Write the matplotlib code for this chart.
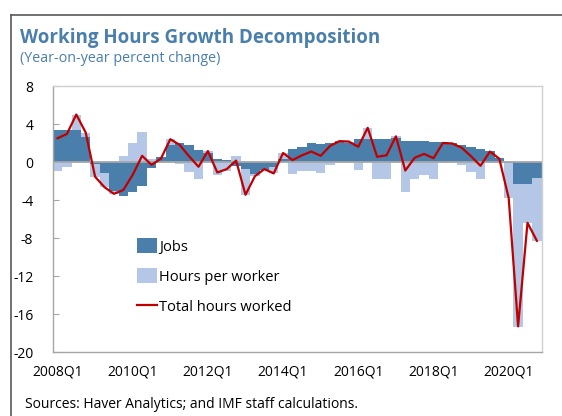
import matplotlib
matplotlib.use("Agg")
import matplotlib.pyplot as plt
from matplotlib.lines import Line2D
from matplotlib.patches import Patch
import numpy as np

plt.rcParams['font.family'] = ['Open Sans', 'DejaVu Sans']

quarters = [f"{y}Q{q}" for y in range(2008, 2021) for q in range(1, 5)]

jobs = [3.4, 3.4, 3.4, 2.6,
        -0.2, -1.2, -3.0, -3.6,
        -3.2, -2.5, -0.65, 0.5,
        1.8, 2.0, 1.75, 1.3,
        1.0, 0.3, 0.2, -0.4,
        -0.7, -1.3, -0.8, -0.5,
        0.3, 1.4, 1.55, 2.05,
        1.9, 2.0, 2.25, 2.0,
        2.4, 2.4, 2.4, 2.45,
        2.5, 2.25, 2.25, 2.2,
        2.15, 2.1, 2.0, 1.8,
        1.6, 1.4, 1.2, 0.45,
        -0.1, -2.35, -2.35, -1.7]

hours = [-0.9, -0.5, 1.6, 0.5,
         -1.35, -1.45, -0.35, 0.6,
         2.0, 3.2, 0.35, -0.1,
         0.6, -0.2, -1.1, -1.8,
         0.2, -1.4, -0.95, 0.6,
         -2.75, -0.2, 0.05, -0.7,
         0.7, -1.25, -0.9, -0.9,
         -1.2, -0.3, 0.0, 0.15,
         -0.85, 1.2, -1.8, -1.75,
         0.25, -3.2, -1.8, -1.35,
         -1.8, -0.1, -0.05, -0.3,
         -1.0, -1.8, -0.1, -0.1,
         -3.7, -15.0, -4.05, -6.6]

total = [2.5, 2.95, 5.0, 3.1,
         -1.55, -2.65, -3.35, -2.95,
         -1.35, 0.65, -0.3, 0.35,
         2.4, 1.8, 0.6, -0.5,
         1.15, -1.1, -0.75, 0.15,
         -3.45, -1.5, -0.75, -1.2,
         0.95, 0.2, 0.7, 1.1,
         0.65, 1.7, 2.2, 2.15,
         1.6, 3.6, 0.55, 0.7,
         2.7, -0.9, 0.45, 0.85,
         0.4, 2.0, 1.95, 1.5,
         0.6, -0.4, 1.1, 0.35,
         -3.8, -17.3, -6.4, -8.3]

yticks = [8, 4, 0, -4, -8, -12, -16, -20]
xlabel_every = 8

DARK = "#4a7eab"
LIGHT = "#b4c7e7"
RED = "#c00000"
TITLE_C = "#4a7eab"

fig = plt.figure(figsize=(5.62, 4.16), dpi=100)
ax = fig.add_axes([52.8 / 562, 1 - 352 / 416, (541.6 - 52.8) / 562, (352 - 86) / 416])

x = np.arange(len(quarters))
j = np.array(jobs)
h = np.array(hours)
hb = np.where(np.sign(h) == np.sign(j), j, 0.0)

ax.bar(x, j, width=1.0, color=DARK, linewidth=0, zorder=2)
ax.bar(x, h, bottom=hb, width=1.0, color=LIGHT, linewidth=0, zorder=2)
ax.axhline(0, color="#a6a6a6", lw=1.3, zorder=3)
ax.plot(x, total, color=RED, lw=1.6, zorder=4)

ax.set_xlim(-0.5, len(quarters) - 0.5)
ax.set_ylim(-20, 8)
ax.set_yticks(yticks)
ax.set_yticklabels([str(v) for v in yticks])
ax.set_xticks(x[::xlabel_every])
ax.set_xticklabels(quarters[::xlabel_every])

ax.tick_params(axis='y', direction='in', length=4, color="#a6a6a6", labelsize=10, pad=14)
ax.tick_params(axis='x', length=0, labelsize=10, pad=9)
for lab in ax.get_yticklabels():
    lab.set_horizontalalignment('right')

for s in ['left', 'bottom']:
    ax.spines[s].set_color("#a6a6a6")
    ax.spines[s].set_linewidth(1.0)
for s in ['top', 'right']:
    ax.spines[s].set_color("#d0d0d0")
    ax.spines[s].set_linewidth(1.0)

handles = [Patch(facecolor=DARK, edgecolor='none', label='Jobs'),
           Patch(facecolor=LIGHT, edgecolor='none', label='Hours per worker'),
           Line2D([0], [0], color=RED, lw=1.6, label='Total hours worked')]
ax.legend(handles=handles, loc='upper left', bbox_to_anchor=(0.16, 0.45), frameon=False,
          fontsize=10.5, handlelength=1.4, handleheight=1.2, handletextpad=0.15,
          labelspacing=0.95, borderaxespad=0)

fig.text(20 / 562, 1 - 38 / 416, "Working Hours Growth Decomposition", color=TITLE_C,
         fontsize=13.5, fontweight='bold', va='center', ha='left')
fig.text(20 / 562, 1 - 58 / 416, "(Year-on-year percent change)", color=TITLE_C,
         fontsize=10.3, va='center', ha='left')
fig.text(25 / 562, 1 - 404 / 416, "Sources: Haver Analytics; and IMF staff calculations.",
         color='black', fontsize=10, va='center', ha='left')

bx = 10.7 / 562
by = 1 - 15 / 416
fig.add_artist(Line2D([bx, bx], [0, by], color="#595959", lw=1.2, transform=fig.transFigure))
fig.add_artist(Line2D([bx, 1.0], [by, by], color="#595959", lw=1.2, transform=fig.transFigure))

fig.savefig("out.png", dpi=100)
